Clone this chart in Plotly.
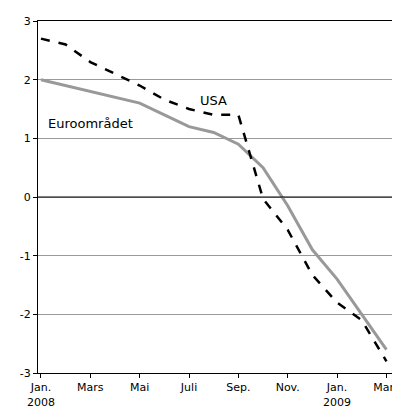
import plotly.graph_objects as go

months = list(range(15))
usa = [2.7, 2.6, 2.3, 2.1, 1.9, 1.66, 1.5, 1.4, 1.4, -0.03, -0.56, -1.33, -1.8, -2.1, -2.8]
euro = [2.0, 1.9, 1.8, 1.7, 1.6, 1.4, 1.2, 1.1, 0.9, 0.5, -0.15, -0.9, -1.4, -2.0, -2.6]
tick_pos = [0, 2, 4, 6, 8, 10, 12, 14]
tick_text = ["Jan.<br>2008", "Mars", "Mai", "Juli", "Sep.", "Nov.", "Jan.<br>2009", "Mars"]
y_vals = [-3, -2, -1, 0, 1, 2, 3]
y_text = ["-3", "-2", "-1", "0", "1", "2", "3"]

fig = go.Figure()
fig.add_trace(go.Scatter(x=months, y=euro, mode="lines", line=dict(color="#999999", width=3)))
fig.add_trace(go.Scatter(x=months, y=usa, mode="lines", line=dict(color="black", width=2.5, dash="dash")))
fig.add_annotation(x=7, y=1.65, text="USA", showarrow=False, font=dict(size=13, color="black"))
fig.add_annotation(x=2.0, y=1.25, text="Euroområdet", showarrow=False, font=dict(size=13, color="black"))
fig.add_hline(y=0, line=dict(color="black", width=1))

fig.update_layout(
    width=400, height=408, showlegend=False,
    margin=dict(l=30, r=7, t=7, b=39),
    plot_bgcolor="white", paper_bgcolor="white",
    font=dict(family="DejaVu Sans", size=11, color="black"),
)
fig.update_xaxes(range=[-0.12, 14.55], tickvals=tick_pos, ticktext=tick_text,
                 showgrid=False, zeroline=False, showline=True, linecolor="black", mirror=True,
                 ticks="outside", ticklen=4, tickcolor="black")
fig.update_yaxes(range=[-3, 3], tickvals=y_vals, ticktext=y_text, showgrid=True,
                 gridcolor="#999999", gridwidth=1,
                 zeroline=False, showline=True, linecolor="black", mirror=True,
                 ticks="outside", ticklen=4, tickcolor="black")
fig.write_html("out.html")
